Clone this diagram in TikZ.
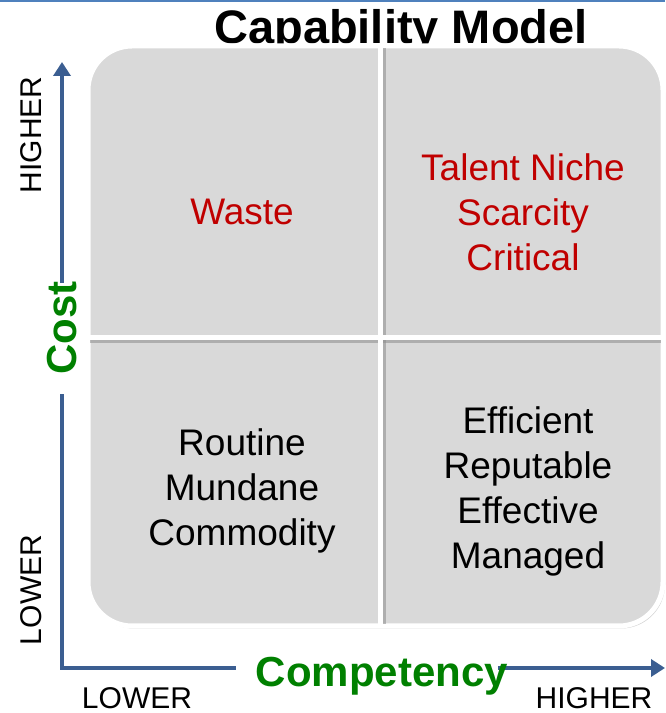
\documentclass[tikz,border=0pt]{standalone}
\usepackage{fontspec}
\setmainfont{Liberation Sans}
\usetikzlibrary{arrows.meta,shadows}
\definecolor{axisblue}{HTML}{3B5E91}
\definecolor{topblue}{HTML}{4F81BD}
\definecolor{quadgray}{HTML}{D9D9D9}
\definecolor{labgreen}{HTML}{008000}
\definecolor{labred}{HTML}{C00000}
\begin{document}
\begin{tikzpicture}[x=1pt,y=1pt,
  axisline/.style={draw=axisblue,line width=4.5pt},
  quadtext/.style={inner sep=0pt,align=center,font=\fontsize{37}{45}\selectfont},
  axislab/.style={inner sep=0pt,font=\fontsize{30}{30}\selectfont},
  axistitle/.style={inner sep=0pt,text=labgreen,font=\fontsize{42}{42}\selectfont\bfseries}]
\useasboundingbox (0,0) rectangle (665,713);
\fill[white] (0,0) rectangle (665,713);
% top rule
\draw[topblue,line width=2.5pt] (0,712) -- (665,712);
% title (partly hidden behind the matrix)
\node[inner sep=0pt,anchor=base,font=\fontsize{47}{47}\selectfont\bfseries] (title) at (401,669) {Capability Model};
% matrix body
\path[fill=quadgray,draw=white,line width=5pt,rounded corners=44pt,
  drop shadow={shadow xshift=2pt,shadow yshift=-2.5pt,opacity=0.35}]
  (88,87) rectangle (663,667);
% cross shadows
\draw[black!45,line width=3pt,opacity=0.55] (384,89) -- (384,665);
\draw[black!45,line width=3pt,opacity=0.55] (90,371) -- (661,371);
% cross
\draw[white,line width=5pt] (380,87) -- (380,667);
\draw[white,line width=5pt] (88,375) -- (663,375);
% quadrant texts
\node[quadtext,text=labred] (tl) at (242,501) {Waste};
\node[quadtext,text=labred] (tr) at (523,501) {Talent Niche\\Scarcity\\Critical};
\node[quadtext] (bl) at (242,222) {Routine\\Mundane\\Commodity};
\node[quadtext] (br) at (528,222) {Efficient\\Reputable\\Effective\\Managed};
% axes
\coordinate (origin) at (62,45);
\coordinate (ytop) at (62,651);
\coordinate (ybreaklo) at (62,317);
\coordinate (ybreakhi) at (62,430);
\coordinate (xbreaklo) at (234,45);
\coordinate (xbreakhi) at (498,45);
\coordinate (xend) at (665,45);
\draw[axisline,line cap=rect] (ybreaklo) -- (origin) -- (xbreaklo);
\draw[axisline,-{Triangle[length=14pt,width=17pt]}] (ybreakhi) -- (ytop);
\draw[axisline,-{Triangle[length=14pt,width=17pt]}] (xbreakhi) -- (xend);
% axis titles
\node[axistitle,rotate=90] (cost) at (62,385) {Cost};
\node[axistitle,anchor=base] (comp) at (382,27) {Competency};
% axis labels
\node[axislab,rotate=90] (yhigh) at (31,578) {HIGHER};
\node[axislab,rotate=90] (ylow) at (31,123) {LOWER};
\node[axislab,anchor=base] (xlow) at (137,5) {LOWER};
\node[axislab,anchor=base] (xhigh) at (594,5) {HIGHER};
\end{tikzpicture}
\end{document}
